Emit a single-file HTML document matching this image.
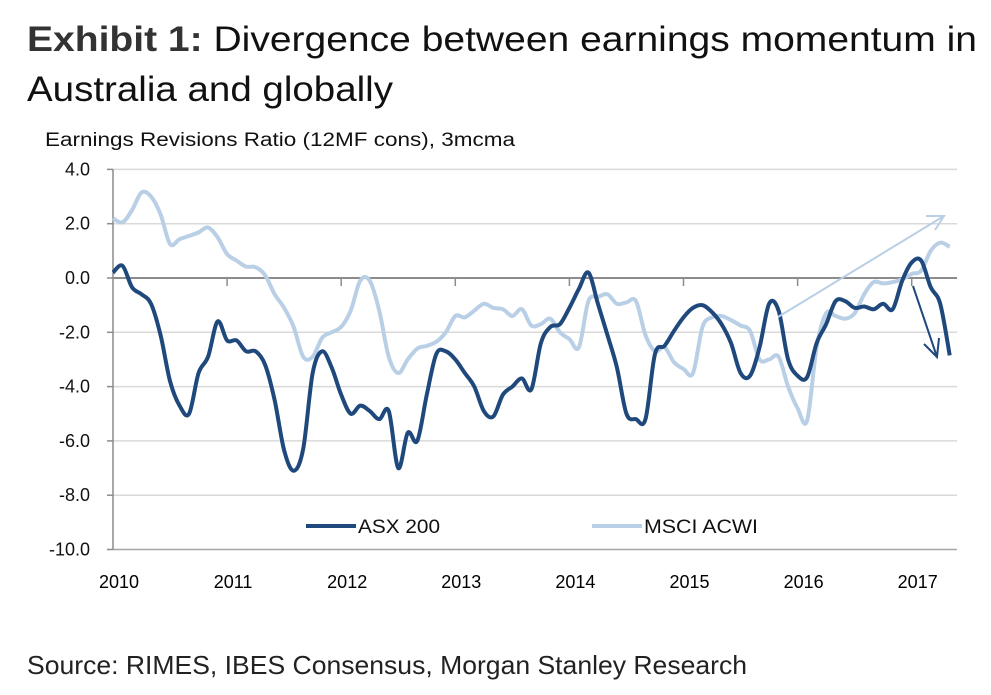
<!DOCTYPE html>
<html><head><meta charset="utf-8"><style>
html,body{margin:0;padding:0;background:#fff;width:991px;height:695px;overflow:hidden}
svg{display:block;font-family:"Liberation Sans",sans-serif}
</style></head><body>
<svg id="chart" width="991" height="695" viewBox="0 0 991 695">
<text x="27" y="51" font-size="35" fill="#111" textLength="950" lengthAdjust="spacingAndGlyphs"><tspan font-weight="bold" fill="#333">Exhibit 1:</tspan>  Divergence between earnings momentum in</text>
<text x="27" y="101" font-size="35" fill="#111" textLength="366" lengthAdjust="spacingAndGlyphs">Australia and globally</text>
<text x="45" y="146" font-size="19" fill="#111" textLength="470" lengthAdjust="spacingAndGlyphs">Earnings Revisions Ratio (12MF cons), 3mcma</text>
<g id="grid"></g><g id="series"></g>
<line x1="778" y1="317" x2="944" y2="216" stroke="#b9cfe6" stroke-width="2"/>
<polyline points="926,216 944,216 935,230" fill="none" stroke="#b9cfe6" stroke-width="2"/>
<line x1="913" y1="286" x2="937" y2="357" stroke="#1f497d" stroke-width="2"/>
<polyline points="924,344 937,357 939,338" fill="none" stroke="#1f497d" stroke-width="2"/>
<g>
<line x1="306" y1="526" x2="356" y2="526" stroke="#1f497d" stroke-width="4"/>
<text x="358" y="533" font-size="19" fill="#111" textLength="82" lengthAdjust="spacingAndGlyphs">ASX 200</text>
<line x1="592" y1="526" x2="642" y2="526" stroke="#b9cfe6" stroke-width="4"/>
<text x="644" y="533" font-size="19" fill="#111" textLength="114" lengthAdjust="spacingAndGlyphs">MSCI ACWI</text>
</g>
<text x="27" y="674" font-size="26" fill="#222" textLength="720" lengthAdjust="spacingAndGlyphs">Source: RIMES, IBES Consensus, Morgan Stanley Research</text>
</svg>
<script>
const yTicks=[4,2,0,-2,-4,-6,-8,-10];
const yTickLabels=["4.0","2.0","0.0","-2.0","-4.0","-6.0","-8.0","-10.0"];
const years=["2010","2011","2012","2013","2014","2015","2016","2017"];
const asx=[0.2,0.45,-0.34,-0.6,-0.95,-2.1,-3.8,-4.7,-5.0,-3.5,-2.9,-1.6,-2.3,-2.3,-2.7,-2.7,-3.2,-4.5,-6.35,-7.1,-6.3,-3.5,-2.7,-3.3,-4.3,-5.0,-4.7,-4.9,-5.2,-4.9,-7.0,-5.7,-6.0,-4.3,-2.8,-2.7,-3.0,-3.5,-4.0,-4.9,-5.1,-4.3,-4.0,-3.7,-4.1,-2.4,-1.8,-1.7,-1.1,-0.4,0.2,-0.95,-2.1,-3.3,-5.0,-5.2,-5.2,-2.8,-2.5,-1.95,-1.45,-1.1,-1.0,-1.26,-1.7,-2.4,-3.5,-3.6,-2.55,-0.95,-1.2,-3.0,-3.6,-3.65,-2.4,-1.7,-0.85,-0.85,-1.1,-1.05,-1.15,-0.95,-1.15,-0.1,0.57,0.64,-0.34,-0.95,-2.85];
const msci=[2.2,2.05,2.5,3.15,3.0,2.35,1.25,1.43,1.55,1.68,1.86,1.5,0.88,0.64,0.42,0.4,0.1,-0.6,-1.1,-1.8,-2.9,-2.9,-2.2,-2.0,-1.8,-1.2,-0.1,-0.1,-1.2,-2.9,-3.5,-3.0,-2.6,-2.5,-2.35,-2.0,-1.4,-1.45,-1.2,-0.95,-1.1,-1.15,-1.4,-1.15,-1.75,-1.7,-1.5,-2.0,-2.25,-2.55,-0.85,-0.7,-0.6,-0.95,-0.9,-0.85,-2.1,-2.7,-2.55,-3.1,-3.35,-3.5,-1.8,-1.45,-1.4,-1.55,-1.75,-1.95,-3.0,-3.0,-2.9,-4.0,-4.8,-5.25,-2.55,-1.3,-1.4,-1.5,-1.3,-0.6,-0.15,-0.2,-0.15,-0.05,0.15,0.27,1.0,1.3,1.15];
const X0=113,YR=114.1,X1=957;
const xs=m=>X0+YR*m/12;
const ys=v=>278-27.15*v;
const NS="http://www.w3.org/2000/svg";
const g=document.getElementById('grid'),s=document.getElementById('series');
function mk(p,t,a){const e=document.createElementNS(NS,t);for(const k in a)e.setAttribute(k,a[k]);p.appendChild(e);return e;}
yTicks.forEach((v,i)=>{
 const y=ys(v);
 const gl=mk(g,'line',{x1:X0,x2:X1,y1:y,y2:y,stroke:v===0?'#8c8c8c':(v===-10?'#a6a6a6':'#d9d9d9'),'stroke-width':v===0?2:1.5});
 
 
 const tk=mk(g,'line',{x1:X0-6,x2:X0,y1:y,y2:y,stroke:'#8c8c8c','stroke-width':1.5});
 
 
 const t=mk(g,'text',{x:90,y:y+6,'text-anchor':'end','font-size':18,fill:'#111'});
 t.textContent=yTickLabels[i];
 
 
});
const ax=mk(g,'line',{x1:X0,x2:X0,y1:ys(4),y2:ys(-10),stroke:'#8c8c8c','stroke-width':1.5});


years.forEach((yr,i)=>{
 const x=xs(i*12);
 if(i>0){const tk=mk(g,'line',{x1:x,x2:x,y1:ys(0),y2:ys(0)+8,stroke:'#8c8c8c','stroke-width':1.5});
 
 }
 const t=mk(g,'text',{x:x+6,y:588,'text-anchor':'middle','font-size':18,fill:'#000'});
 t.textContent=yr;
 
 
});
function path(d){
 const p=d.map((v,i)=>[xs(i),ys(v)]);
 let str='M'+p[0][0]+','+p[0][1];
 for(let i=0;i<p.length-1;i++){
  const p0=p[Math.max(0,i-1)],p1=p[i],p2=p[i+1],p3=p[Math.min(p.length-1,i+2)];
  const c1=[p1[0]+(p2[0]-p0[0])/6,p1[1]+(p2[1]-p0[1])/6],c2=[p2[0]-(p3[0]-p1[0])/6,p2[1]-(p3[1]-p1[1])/6];
  str+=' C'+c1.join(',')+' '+c2.join(',')+' '+p2.join(',');
 }
 return str;
}
const lm=mk(s,'path',{d:path(msci),fill:'none',stroke:'#b9cfe6','stroke-width':4,'stroke-linejoin':'round'});


const la=mk(s,'path',{d:path(asx),fill:'none',stroke:'#1f497d','stroke-width':4,'stroke-linejoin':'round'});


</script>
</body></html>
